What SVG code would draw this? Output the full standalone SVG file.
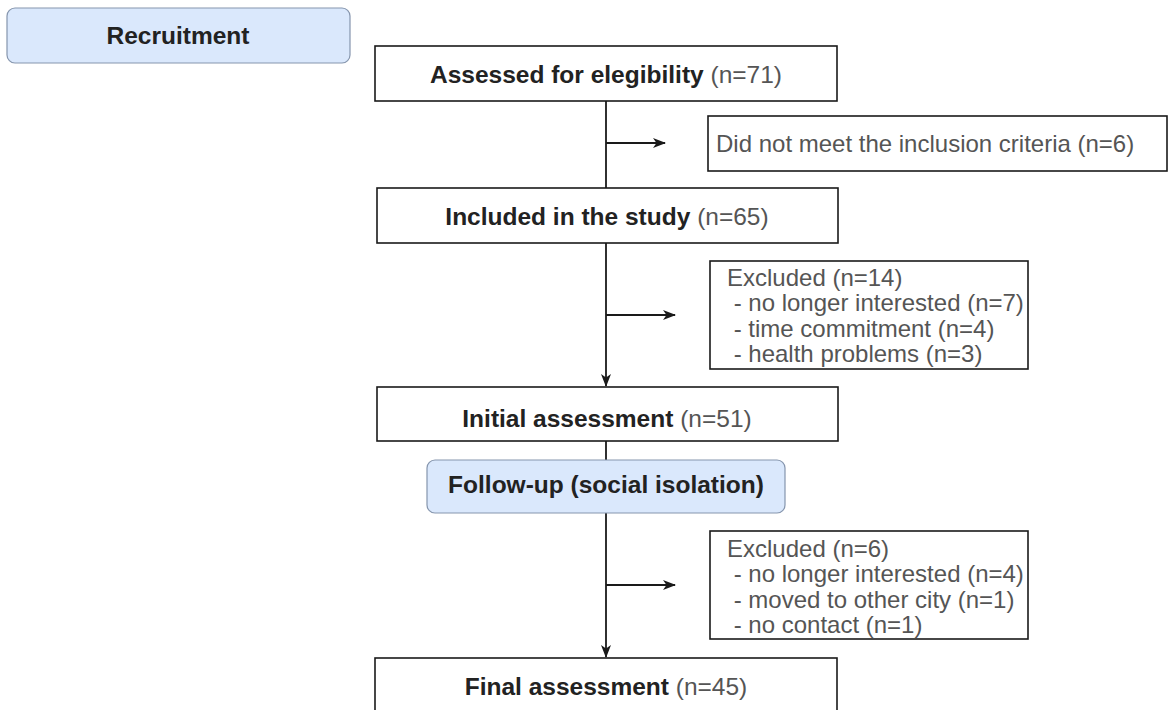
<svg xmlns="http://www.w3.org/2000/svg" width="1172" height="710" viewBox="0 0 1172 710">
<style>
.box{fill:#ffffff;stroke:#1a1a1a;stroke-width:1.6}
.phase{fill:#dae8fc;stroke:#8595ad;stroke-width:1.2}
.t{font-family:"Liberation Sans",Arial,sans-serif;font-size:24px}
.b{font-weight:bold;fill:#222222;font-size:24.5px}
.g{fill:#555555;font-weight:normal}
.line{stroke:#1a1a1a;stroke-width:1.8;fill:none}
</style>
<defs>
<marker id="arr" markerWidth="14" markerHeight="12" refX="12" refY="5" orient="auto" markerUnits="userSpaceOnUse">
<path d="M0,0 L13,5 L0,10 L3.5,5 z" fill="#1a1a1a"/>
</marker>
</defs>
<rect width="1172" height="710" fill="#ffffff"/>
<g id="connectors">
<line class="line" x1="606" y1="101" x2="606" y2="188"/>
<line class="line" x1="606" y1="143" x2="665" y2="143" marker-end="url(#arr)"/>
<line class="line" x1="606" y1="243" x2="606" y2="386" marker-end="url(#arr)"/>
<line class="line" x1="606" y1="315" x2="675" y2="315" marker-end="url(#arr)"/>
<line class="line" x1="606" y1="441" x2="606" y2="460"/>
<line class="line" x1="606" y1="513" x2="606" y2="657" marker-end="url(#arr)"/>
<line class="line" x1="606" y1="585" x2="675" y2="585" marker-end="url(#arr)"/>
</g>
<g id="recruitment">
<rect class="phase" x="7" y="8" width="343" height="55" rx="8"/>
<text class="t b" x="178" y="44" text-anchor="middle">Recruitment</text>
</g>
<g id="assessed">
<rect class="box" x="375" y="46" width="462" height="55"/>
<text class="t b" x="606" y="83" text-anchor="middle">Assessed for elegibility <tspan class="g">(n=71)</tspan></text>
</g>
<g id="not-meet">
<rect class="box" x="708" y="116" width="459" height="55"/>
<text class="t g" x="716" y="152">Did not meet the inclusion criteria (n=6)</text>
</g>
<g id="included">
<rect class="box" x="377" y="188" width="461" height="55"/>
<text class="t b" x="607" y="225" text-anchor="middle">Included in the study <tspan class="g">(n=65)</tspan></text>
</g>
<g id="excluded1">
<rect class="box" x="710" y="261" width="318" height="108"/>
<text class="t g" x="727" y="286">Excluded (n=14)</text>
<text class="t g" x="727" y="311" xml:space="preserve"> - no longer interested (n=7)</text>
<text class="t g" x="727" y="337" xml:space="preserve"> - time commitment (n=4)</text>
<text class="t g" x="727" y="362" xml:space="preserve"> - health problems (n=3)</text>
</g>
<g id="initial">
<rect class="box" x="377" y="387" width="461" height="54"/>
<text class="t b" x="607" y="427" text-anchor="middle">Initial assessment <tspan class="g">(n=51)</tspan></text>
</g>
<g id="followup">
<rect class="phase" x="427" y="460" width="358" height="53" rx="8"/>
<text class="t b" x="606" y="493" text-anchor="middle">Follow-up (social isolation)</text>
</g>
<g id="excluded2">
<rect class="box" x="710" y="531" width="318" height="108"/>
<text class="t g" x="727" y="557">Excluded (n=6)</text>
<text class="t g" x="727" y="582" xml:space="preserve"> - no longer interested (n=4)</text>
<text class="t g" x="727" y="608" xml:space="preserve"> - moved to other city (n=1)</text>
<text class="t g" x="727" y="633" xml:space="preserve"> - no contact (n=1)</text>
</g>
<g id="final">
<rect class="box" x="375" y="658" width="462" height="80"/>
<text class="t b" x="606" y="695" text-anchor="middle">Final assessment <tspan class="g">(n=45)</tspan></text>
</g>
</svg>
